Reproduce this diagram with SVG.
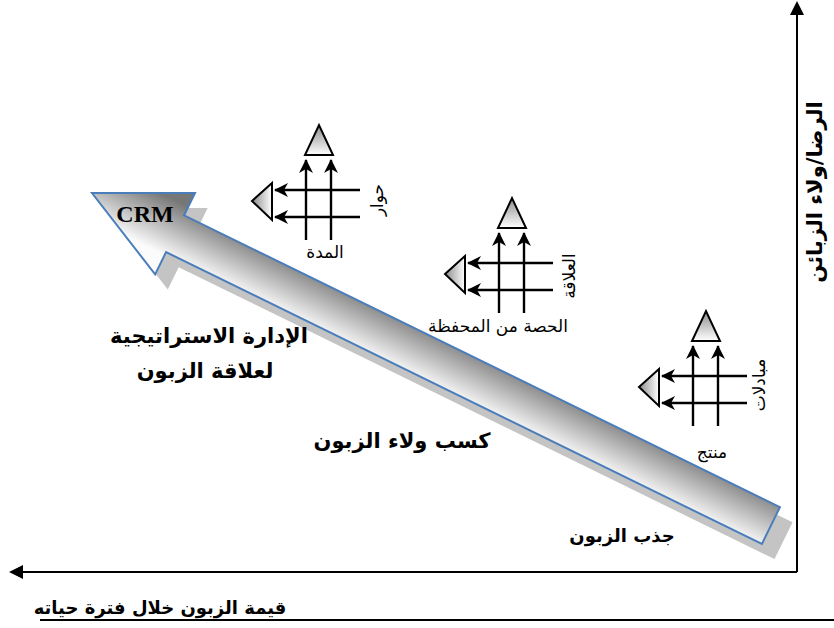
<svg xmlns="http://www.w3.org/2000/svg" width="834" height="628" viewBox="0 0 834 628">
<style>
.ar{font-family:"DejaVu Sans","Noto Sans",sans-serif;fill:#000}
.b{font-weight:bold}
.ln{stroke:#000;stroke-width:2.4;fill:none;marker-end:url(#mb)}
.tu{stroke:#000;stroke-width:2;fill:url(#gUp)}
.tl{stroke:#000;stroke-width:2;fill:url(#gLeft)}
.axis{stroke:#000;stroke-width:2;fill:none}
</style>
<defs>
<linearGradient id="gArrow" gradientUnits="userSpaceOnUse" x1="0" y1="-30" x2="0" y2="24">
<stop offset="0" stop-color="#777777"/><stop offset="1" stop-color="#fbfbfb"/>
</linearGradient>
<linearGradient id="gUp" x1="0" y1="0" x2="0" y2="1">
<stop offset="0" stop-color="#8c8c8c"/><stop offset="1" stop-color="#ffffff"/>
</linearGradient>
<linearGradient id="gLeft" x1="0" y1="0" x2="1" y2="0">
<stop offset="0" stop-color="#8c8c8c"/><stop offset="1" stop-color="#ffffff"/>
</linearGradient>
<marker id="mb" markerUnits="userSpaceOnUse" viewBox="0 0 14 14" refX="13" refY="7" markerWidth="14" markerHeight="14" orient="auto">
<path d="M0,0 L14,7 L0,14 L4,7 Z" fill="#000"/>
</marker>
<g id="glyph">
<polygon class="tu" points="-1,-35 27,-35 13,-65"/>
<line class="ln" x1="0" y1="50" x2="0" y2="-30"/>
<line class="ln" x1="25" y1="50" x2="25" y2="-30"/>
<line class="ln" x1="54" y1="0" x2="-31" y2="0"/>
<line class="ln" x1="54" y1="27" x2="-31" y2="27"/>
<polygon class="tl" points="-34,-7 -34,30 -54,11"/>
</g>
</defs>

<g id="connectors">
<line class="axis" x1="797" y1="572" x2="797" y2="12"/>
<polygon points="797,1 790,15 804,15" fill="#000"/>
<line class="axis" x1="797" y1="572" x2="20" y2="572"/>
<polygon points="9,572 23,565 23,579" fill="#000"/>
<line x1="40" y1="620" x2="834" y2="620" stroke="#000" stroke-width="2"/>
</g>

<g id="crm-arrow">
<g transform="translate(92,193) rotate(26.1)">
<path d="M0,0 L92.5,-45.3 L92.5,-20.5 L756,-20.5 L756,20.5 L92.5,20.5 L92.5,45.3 Z" transform="translate(18,8)" fill="#c4c4c4"/>
<path d="M0,0 L92.5,-45.3 L92.5,-20.5 L756,-20.5 L756,20.5 L92.5,20.5 L92.5,45.3 Z" fill="url(#gArrow)" stroke="#4a7ebb" stroke-width="2"/>
</g>
<text x="145" y="222" font-family="'Liberation Serif',serif" font-weight="bold" font-size="24" text-anchor="middle">CRM</text>
</g>

<g id="glyph-1">
<use href="#glyph" transform="translate(306,190)"/>
<text class="ar" font-size="17" text-anchor="middle" dominant-baseline="central" transform="translate(377,200) rotate(-90)">حوار</text>
<text class="ar" font-size="17" x="325" y="258" text-anchor="middle">المدة</text>
</g>

<g id="glyph-2">
<use href="#glyph" transform="translate(499,263)"/>
<text class="ar" font-size="17" text-anchor="middle" dominant-baseline="central" transform="translate(569,276) rotate(-90)">العلاقة</text>
<text class="ar" font-size="17" x="498" y="332" text-anchor="middle">الحصة من المحفظة</text>
</g>

<g id="glyph-3">
<use href="#glyph" transform="translate(693,376)"/>
<text class="ar" font-size="17" text-anchor="middle" dominant-baseline="central" transform="translate(759,385) rotate(-90)">مبادلات</text>
<text class="ar" font-size="17" x="712" y="458" text-anchor="middle">منتج</text>
</g>

<g id="labels">
<text class="ar b" font-size="21" x="209" y="343" text-anchor="middle">الإدارة الاستراتيجية</text>
<text class="ar b" font-size="21" x="205" y="378" text-anchor="middle">لعلاقة الزبون</text>
<text class="ar b" font-size="21" x="402" y="448" text-anchor="middle">كسب ولاء الزبون</text>
<text class="ar b" font-size="18" x="622" y="542" text-anchor="middle">جذب الزبون</text>
<text class="ar b" font-size="18" x="160" y="614" text-anchor="middle">قيمة الزبون خلال فترة حياته</text>
<text class="ar b" font-size="21" text-anchor="middle" dominant-baseline="central" transform="translate(815,192) rotate(-90)">الرضا/ولاء الزبائن</text>
</g>
</svg>
